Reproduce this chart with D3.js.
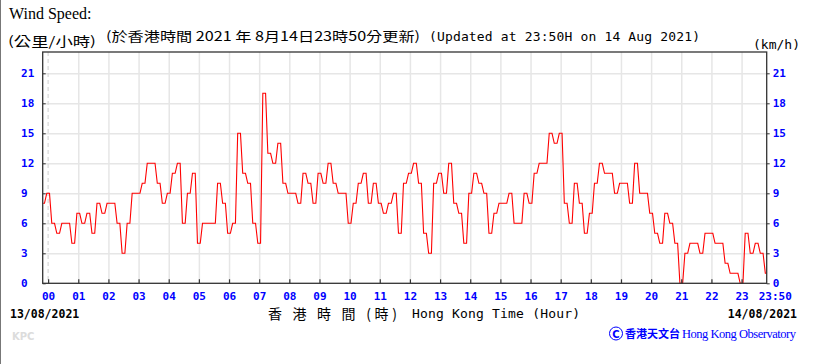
<!DOCTYPE html>
<html>
<head>
<meta charset="utf-8">
<script src="https://cdn.jsdelivr.net/npm/d3@7"></script>
<style>
    body { margin: 0; background: #fff; }
    svg { display: block; }
</style>
</head>
<body>
<svg id="chart" width="820" height="364"></svg>
<script>
// 10-minute mean wind speed (km/h), 13/08 23:50 -> 14/08 23:50
const speeds = [
    8, 9, 6, 5, 6, 6, 4, 7, 6, 7, 5, 8, 7, 8, 8, 6, 3, 6, 9, 9,
    10, 12, 12, 10, 8, 9, 11, 12, 6, 9, 11, 4, 6, 6, 6, 10, 8, 5, 6, 15,
    11, 10, 6, 4, 19, 13, 12, 14, 10, 9, 9, 8, 11, 10, 8, 11, 10, 12, 10, 9,
    9, 6, 8, 10, 11, 8, 10, 8, 7, 8, 9, 5, 10, 11, 12, 10, 5, 3, 10, 11,
    9, 12, 8, 7, 4, 9, 11, 10, 9, 5, 7, 8, 8, 9, 6, 6, 9, 8, 11, 12,
    12, 15, 14, 15, 8, 6, 10, 8, 5, 7, 10, 12, 11, 11, 9, 10, 10, 8, 12, 9,
    9, 7, 5, 4, 7, 6, 4, 0, 3, 4, 4, 3, 5, 5, 4, 4, 2, 1, 1, 0,
    5, 3, 4, 3, 1
];
const startMinute = -10;   // first reading at 23:50 of the previous day
const stepMinutes = 10;

const hourLabels = ['00', '01', '02', '03', '04', '05', '06', '07', '08', '09', '10', '11',
    '12', '13', '14', '15', '16', '17', '18', '19', '20', '21', '22', '23'];
const lastLabel = '23:50';
const speedTicks = [0, 3, 6, 9, 12, 15, 18, 21];

const svg = d3.select('#chart');
const boxLeft = 42.7, boxRight = 766.7, boxTop = 52, boxBottom = 283.3;

const x = d3.scaleLinear().domain([-10, 1430]).range([43.1, 766.7]);
const y = d3.scaleLinear().domain([0, 21]).range([283.3, 73.3]);

const hourMinutes = hourLabels.map((d, i) => i * 60);
const monoFont = '"DejaVu Sans Mono", "Liberation Mono", monospace';
const blue = '#0000ff';

// step curve with short sloped risers (the chart looks half stair, half line)
function rampCurve(context) {
    const ramp = 0.45;
    let px, py, started;
    return {
        areaStart() {},
        areaEnd() {},
        lineStart() { started = false; },
        lineEnd() { if (started) context.lineTo(px, py); },
        point(x1, y1) {
            if (!started) {
                context.moveTo(x1, y1);
                started = true;
            } else {
                const dx = x1 - px;
                context.lineTo(px + dx * (0.5 - ramp / 2), py);
                context.lineTo(px + dx * (0.5 + ramp / 2), y1);
            }
            px = x1;
            py = y1;
        }
    };
}

// frame edge on the left of the picture
svg.append('line')
    .attr('x1', 0.5).attr('x2', 0.5)
    .attr('y1', 0).attr('y2', 364)
    .attr('stroke', '#777');

// grid
svg.append('g')
    .attr('transform', `translate(0,${boxBottom})`)
    .call(d3.axisBottom(x).tickValues(hourMinutes.slice(1)).tickSize(-(boxBottom - boxTop)).tickFormat(''))
    .call(g => g.select('.domain').remove())
    .call(g => g.selectAll('line').attr('stroke', '#e6e6e6').attr('stroke-width', 1.5));

svg.append('g')
    .attr('transform', `translate(${boxLeft},0)`)
    .call(d3.axisLeft(y).tickValues(speedTicks.slice(1)).tickSize(-(boxRight - boxLeft)).tickFormat(''))
    .call(g => g.select('.domain').remove())
    .call(g => g.selectAll('line').attr('stroke', '#e6e6e6').attr('stroke-width', 1.5));

// midnight line
svg.append('line')
    .attr('x1', x(0)).attr('x2', x(0))
    .attr('y1', boxTop).attr('y2', boxBottom)
    .attr('stroke', '#d8d8d8')
    .attr('stroke-width', 1.2)
    .attr('stroke-dasharray', '4,3');

// data line
const line = d3.line()
    .x((d, i) => x(startMinute + i * stepMinutes))
    .y(d => y(d))
    .curve(rampCurve);

svg.append('path')
    .datum(speeds)
    .attr('fill', 'none')
    .attr('stroke', '#ff0000')
    .attr('stroke-width', 1.1)
    .attr('d', line);

// box
svg.append('rect')
    .attr('x', boxLeft).attr('y', boxTop)
    .attr('width', boxRight - boxLeft)
    .attr('height', boxBottom - boxTop)
    .attr('fill', 'none')
    .attr('stroke', '#333')
    .attr('stroke-width', 1.3);

// bottom axis: inward ticks + labels
const xAxis = svg.append('g')
    .attr('transform', `translate(0,${boxBottom})`)
    .call(d3.axisBottom(x)
        .tickValues(hourMinutes.concat([1430]))
        .tickSize(-4)
        .tickFormat((d, i) => i < hourLabels.length ? hourLabels[i] : lastLabel))
    .call(g => g.select('.domain').remove());
xAxis.selectAll('line').attr('stroke', '#333').attr('stroke-width', 1.2);
xAxis.selectAll('text')
    .attr('y', 9)
    .attr('fill', blue)
    .style('font', `bold 11px ${monoFont}`);
xAxis.selectAll('.tick').filter(d => d === 1430).select('line').remove();
xAxis.selectAll('.tick').filter(d => d === 1430).select('text')
    .attr('text-anchor', 'start')
    .attr('x', -8.5);

// left axis labels
const yLeft = svg.append('g')
    .attr('transform', `translate(${boxLeft},0)`)
    .call(d3.axisLeft(y).tickValues(speedTicks).tickSize(-3))
    .call(g => g.select('.domain').remove());
yLeft.selectAll('line').attr('stroke', '#333');
yLeft.selectAll('text')
    .attr('text-anchor', 'start')
    .attr('x', 21 - boxLeft)
    .attr('fill', blue)
    .style('font', `bold 11px ${monoFont}`);

// right axis labels
const yRight = svg.append('g')
    .attr('transform', `translate(${boxRight},0)`)
    .call(d3.axisRight(y).tickValues(speedTicks).tickSize(3))
    .call(g => g.select('.domain').remove());
yRight.selectAll('line').attr('stroke', '#333');
yRight.selectAll('text')
    .attr('x', 6)
    .attr('fill', blue)
    .style('font', `bold 11px ${monoFont}`);

// titles
svg.append('text')
    .attr('x', 9).attr('y', 19)
    .style('font', '16px "Liberation Serif", "Times New Roman", serif')
    .text('Wind Speed:');

svg.append('text')
    .attr('x', 8).attr('y', 46)
    .attr('textLength', 88)
    .attr('lengthAdjust', 'spacingAndGlyphs')
    .style('font', '13px "Noto Sans CJK TC", sans-serif')
    .text('(公里/小時)');

svg.append('text')
    .attr('x', 106).attr('y', 41)
    .attr('textLength', 314)
    .attr('lengthAdjust', 'spacingAndGlyphs')
    .style('font', `13px "Noto Sans CJK TC", ${monoFont}`)
    .text('(於香港時間 2021 年 8月14日23時50分更新)');

svg.append('text')
    .attr('x', 429).attr('y', 41)
    .attr('textLength', 271)
    .style('font', `13px ${monoFont}`)
    .text('(Updated at 23:50H on 14 Aug 2021)');

svg.append('text')
    .attr('x', 753).attr('y', 49)
    .style('font', `13px ${monoFont}`)
    .text('(km/h)');

// bottom texts
svg.append('text')
    .attr('x', 10).attr('y', 318)
    .style('font', `bold 11.5px ${monoFont}`)
    .text('13/08/2021');

svg.append('text')
    .attr('x', 797).attr('y', 318)
    .attr('text-anchor', 'end')
    .style('font', `bold 11.5px ${monoFont}`)
    .text('14/08/2021');

svg.append('text')
    .attr('x', 268).attr('y', 319)
    .attr('textLength', 129)
    .style('font', '14px "Noto Sans CJK TC", sans-serif')
    .text('香 港 時 間 (時)');

svg.append('text')
    .attr('x', 412).attr('y', 318)
    .attr('textLength', 168)
    .style('font', `13px ${monoFont}`)
    .text('Hong Kong Time (Hour)');

svg.append('text')
    .attr('x', 12).attr('y', 340)
    .attr('fill', '#dcdcdc')
    .style('font', 'bold 10px "DejaVu Sans", sans-serif')
    .text('KPC');

// copyright
svg.append('circle')
    .attr('cx', 616).attr('cy', 333.5)
    .attr('r', 6.5)
    .attr('fill', 'none')
    .attr('stroke', blue)
    .attr('stroke-width', 1);
svg.append('text')
    .attr('x', 616).attr('y', 337.5)
    .attr('text-anchor', 'middle')
    .attr('fill', blue)
    .style('font', 'bold 10px "DejaVu Sans", sans-serif')
    .text('C');
svg.append('text')
    .attr('x', 625).attr('y', 338)
    .attr('textLength', 55)
    .attr('fill', blue)
    .style('font', 'bold 11px "Noto Sans CJK TC", sans-serif')
    .text('香港天文台');
svg.append('text')
    .attr('x', 682).attr('y', 338)
    .attr('textLength', 114)
    .attr('fill', blue)
    .style('font', '12.5px "Liberation Serif", "Times New Roman", serif')
    .text('Hong Kong Observatory');
</script>
</body>
</html>
